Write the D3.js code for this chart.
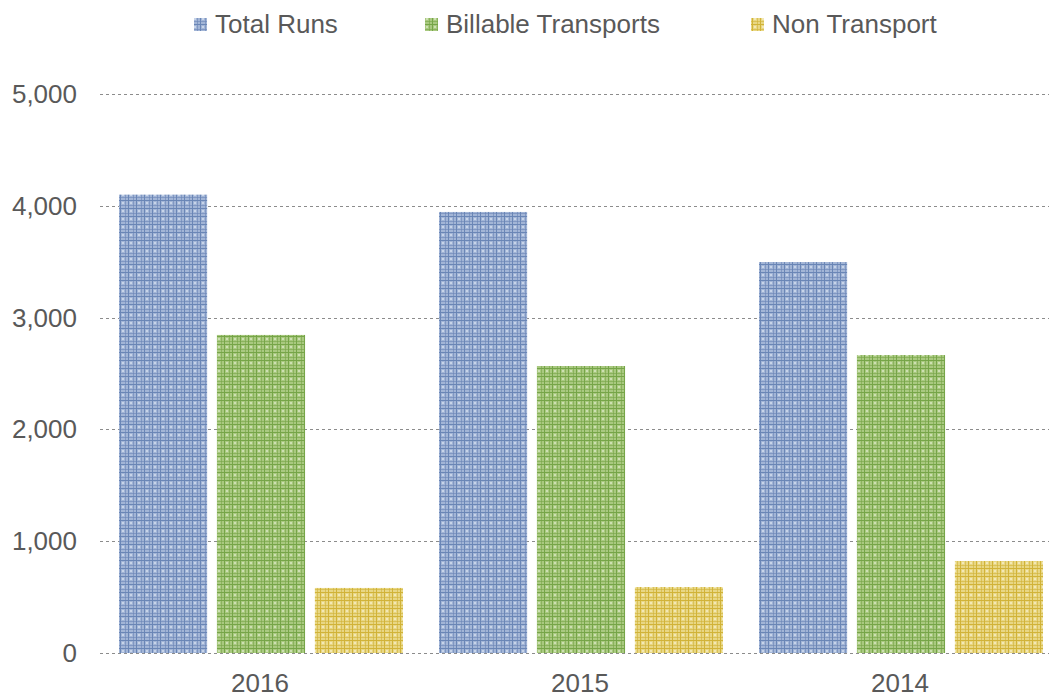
<!DOCTYPE html>
<html><head><meta charset="utf-8">
<script src="https://cdn.jsdelivr.net/npm/d3@7"></script>
<style>body{margin:0;background:#fff;} text{font-family:"Liberation Sans",Arial,sans-serif;fill:#595959;}</style>
</head><body>
<svg id="c" width="1049" height="698"></svg>
<script>
const categories = ["2016", "2015", "2014"];
const seriesNames = ["Total Runs", "Billable Transports", "Non Transport"];
const totalRuns = [4100, 3945, 3497];
const billableTransports = [2845, 2567, 2665];
const nonTransport = [582, 590, 823];
const yTicks = [0, 1000, 2000, 3000, 4000, 5000];

const series = [totalRuns, billableTransports, nonTransport];
const palettes = [
  {base:"#a2b5d6", line:"#6a86b6", dot:"#c7d4e9"},
  {base:"#a9c980", line:"#76a548", dot:"#cde0b3"},
  {base:"#e8d784", line:"#d1b338", dot:"#f3e8b6"}
];

const svg = d3.select("#c");
const defs = svg.append("defs");
palettes.forEach((p,i)=>{
  const pat = defs.append("pattern").attr("id","pat"+i).attr("patternUnits","userSpaceOnUse")
    .attr("width",8).attr("height",8);
  pat.append("rect").attr("width",8).attr("height",8).attr("fill",p.base);
  pat.append("rect").attr("x",2).attr("y",2).attr("width",2).attr("height",2).attr("fill",p.dot);
  pat.append("rect").attr("x",0).attr("y",0).attr("width",1).attr("height",8).attr("fill",p.line);
  pat.append("rect").attr("x",5).attr("y",0).attr("width",1).attr("height",8).attr("fill",p.line).attr("opacity",0.6);
  pat.append("rect").attr("x",0).attr("y",0).attr("width",8).attr("height",1).attr("fill",p.line);
  pat.append("rect").attr("x",0).attr("y",5).attr("width",8).attr("height",1).attr("fill",p.line).attr("opacity",0.6);
});

const y = d3.scaleLinear().domain([0,5000]).range([653,94]);
const x0 = d3.scaleBand().domain(categories).range([101,1061]).paddingInner(0).paddingOuter(0);
const x1 = d3.scaleBand().domain(d3.range(3)).range([18, 302]).paddingInner(0.1).paddingOuter(0);

// gridlines
svg.append("g").selectAll("line").data(yTicks).join("line")
  .attr("x1",100).attr("x2",1049)
  .attr("y1",d=>Math.round(y(d))+0.5).attr("y2",d=>Math.round(y(d))+0.5)
  .attr("stroke","#8c8c8c").attr("stroke-width",1).attr("stroke-dasharray","3,3");

// y labels
svg.append("g").selectAll("text").data(yTicks).join("text")
  .attr("x",77).attr("y",d=>y(d)+9).attr("text-anchor","end")
  .attr("font-size",26).text(d=>d3.format(",")(d));

// bars
const g = svg.append("g");
categories.forEach((c,ci)=>{
  series.forEach((s,si)=>{
    g.append("rect")
      .attr("x", x0(c)+x1(si))
      .attr("y", y(s[ci]))
      .attr("width", x1.bandwidth())
      .attr("height", y(0)-y(s[ci]))
      .attr("fill","url(#pat"+si+")");
  });
});

// x labels
svg.append("g").selectAll("text").data(categories).join("text")
  .attr("x",d=>x0(d)+x0.bandwidth()/2-1).attr("y",692).attr("text-anchor","middle")
  .attr("font-size",26).text(d=>d);

// legend
const legX = [194, 425, 751];
seriesNames.forEach((n,i)=>{
  svg.append("rect").attr("x",legX[i]).attr("y",18).attr("width",13).attr("height",13)
    .attr("fill","url(#pat"+i+")");
  svg.append("text").attr("x",legX[i]+21).attr("y",33).attr("font-size",26).text(n);
});
</script>
</body></html>
